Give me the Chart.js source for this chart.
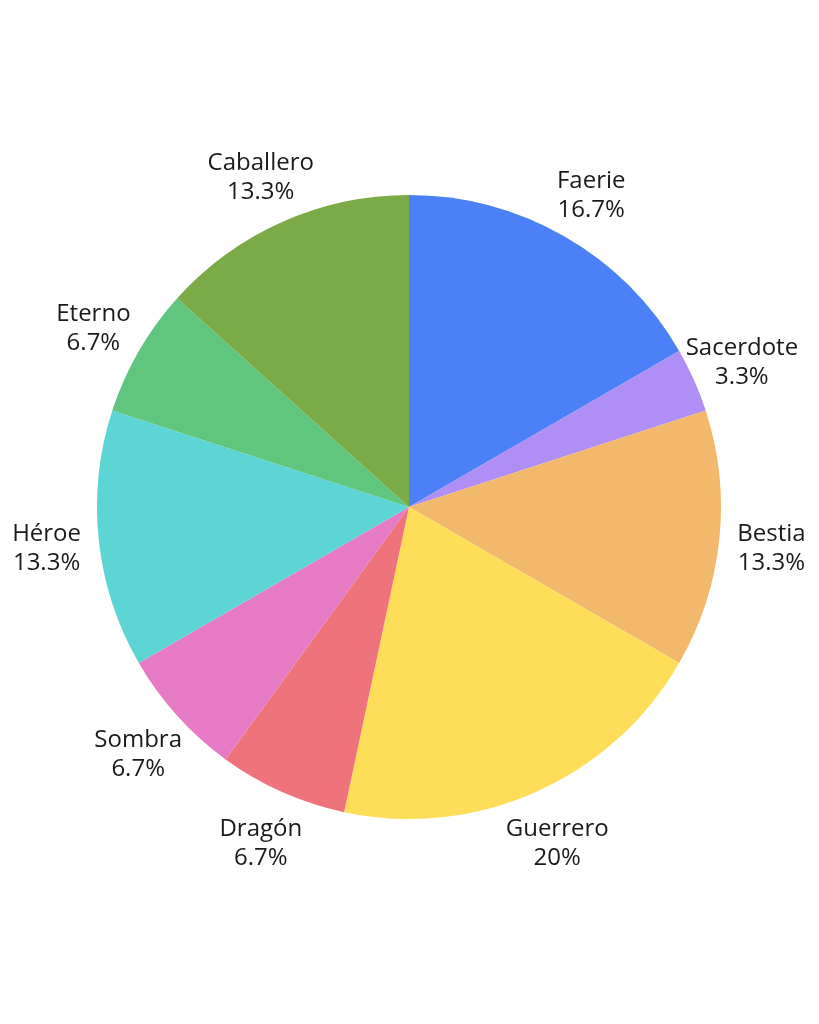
<!DOCTYPE html>
<html>
<head>
<meta charset="utf-8">
<script src="https://cdn.jsdelivr.net/npm/chart.js@4.4.0/dist/chart.umd.min.js"></script>
<style>
html,body{margin:0;padding:0;background:#fff;}
#wrap{width:819px;height:1024px;position:relative;}
</style>
</head>
<body>
<div id="wrap"><canvas id="c" width="819" height="1024"></canvas></div>
<script>
const categories = ["Faerie", "Sacerdote", "Bestia", "Guerrero", "Dragón", "Sombra", "Héroe", "Eterno", "Caballero"];
const values = [5, 1, 4, 6, 2, 2, 4, 2, 4];
const colors = ["#4b80f7", "#af8ef5", "#f2b86c", "#fedd59", "#ef737b", "#e77ac4", "#5dd5d4", "#60c57d", "#7bab47"];

const total = values.reduce((a, b) => a + b, 0);
function pctLabel(v) {
  const p = Math.round(v / total * 1000) / 10;
  return (Number.isInteger(p) ? p.toFixed(0) : p.toFixed(1)) + "%";
}

const outsideLabels = {
  id: "outsideLabels",
  afterDatasetsDraw(chart) {
    const ctx = chart.ctx;
    const meta = chart.getDatasetMeta(0);
    ctx.save();
    ctx.font = "24px 'Open Sans'";
    ctx.fillStyle = "#1a1a1a";
    ctx.textAlign = "center";
    ctx.textBaseline = "middle";
    meta.data.forEach((arc, i) => {
      const mid = (arc.startAngle + arc.endAngle) / 2;
      const r = arc.outerRadius * 1.168;
      const x = arc.x + Math.cos(mid) * r;
      const y = arc.y + Math.sin(mid) * r + 4;
      ctx.fillText(categories[i], x, y - 14.5);
      ctx.fillText(pctLabel(values[i]), x, y + 14.5);
    });
    ctx.restore();
  }
};

new Chart(document.getElementById("c"), {
  type: "pie",
  data: {
    labels: categories,
    datasets: [{
      data: values,
      backgroundColor: colors,
      borderWidth: 0
    }]
  },
  options: {
    responsive: false,
    animation: false,
    layout: { padding: { left: 97, right: 98, top: 195, bottom: 205 } },
    plugins: { legend: { display: false }, tooltip: { enabled: false } }
  },
  plugins: [outsideLabels]
});
</script>
</body>
</html>
